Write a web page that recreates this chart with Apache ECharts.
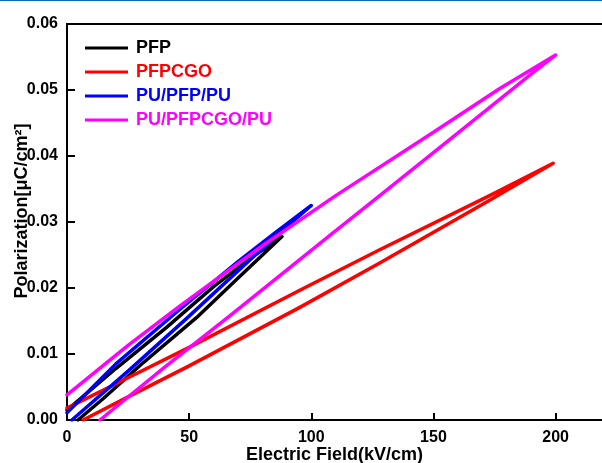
<!DOCTYPE html>
<html>
<head>
<meta charset="utf-8">
<script src="https://cdn.jsdelivr.net/npm/echarts@6/dist/echarts.min.js"></script>
<style>
    html, body { margin: 0; padding: 0; background: #fff; }
    #chart { width: 602px; height: 463px; }
</style>
</head>
<body>
<div id="chart"></div>
<script>
    // hysteresis loops: each list runs up the upper branch, to the tip, and back down the lower branch
    var pfpField = [0, 20, 41, 60, 75, 88, 80, 68, 53, 30, 15, 4.5];
    var pfpPol = [0.0015, 0.0078, 0.0141, 0.0202, 0.0245, 0.0278, 0.0250, 0.0208, 0.0155, 0.0083, 0.0033, 0];

    var pfpcgoField = [0, 25, 50, 95.5, 128, 173, 199, 173, 128, 95.5, 50, 25, 6.6];
    var pfpcgoPol = [0.0018, 0.0064, 0.0110, 0.0197, 0.0258, 0.0340, 0.0389, 0.0333, 0.0238, 0.0171, 0.0082, 0.0035, 0];

    var puPfpField = [0, 20, 46, 70, 85, 100, 85, 70, 49, 25, 2];
    var puPfpPol = [0.0011, 0.0085, 0.0167, 0.0240, 0.0283, 0.0325, 0.0277, 0.0226, 0.0154, 0.0074, 0];

    var puPfpcgoField = [0, 25, 46, 80, 110, 150, 177, 200, 191, 156, 127, 108, 66, 40, 13.5];
    var puPfpcgoPol = [0.0038, 0.0113, 0.0172, 0.0264, 0.0340, 0.0436, 0.0502, 0.0553, 0.0527, 0.0423, 0.0337, 0.0281, 0.0156, 0.0080, 0];

    var seriesNames = ['PFP', 'PFPCGO', 'PU/PFP/PU', 'PU/PFPCGO/PU'];
    var seriesColors = ['#000000', '#ff0000', '#0000ff', '#ff00ff'];

    function pairs(xs, ys) {
        var out = [];
        for (var i = 0; i < xs.length; i++) {
            out.push([xs[i], ys[i]]);
        }
        return out;
    }

    var loops = [
        pairs(pfpField, pfpPol),
        pairs(pfpcgoField, pfpcgoPol),
        pairs(puPfpField, puPfpPol),
        pairs(puPfpcgoField, puPfpcgoPol)
    ];

    let chart = echarts.init(document.getElementById('chart'));

    var font = 'Arial, "Liberation Sans", sans-serif';

    let option = {
        animation: false,
        textStyle: { fontFamily: font },
        grid: {
            left: 67,
            right: 0,
            top: 24,
            bottom: 43,
            outerBoundsMode: 'none',
            containLabel: false
        },
        legend: {
            orient: 'vertical',
            left: 80,
            top: 34,
            icon: 'rect',
            itemWidth: 43,
            itemHeight: 3,
            itemGap: 6,
            textStyle: {
                fontFamily: font,
                fontSize: 18,
                fontWeight: 'bold',
                lineHeight: 18,
                padding: [0, 0, 0, 3]
            },
            data: seriesNames.map(function (name, i) {
                return { name: name, textStyle: { color: seriesColors[i] } };
            })
        },
        graphic: [
            {
                type: 'rect',
                left: 0,
                top: 0,
                shape: { width: 602, height: 1 },
                style: { fill: '#0a6cb8' }
            }
        ],
        xAxis: [
            {
                type: 'value',
                min: 0,
                max: 219,
                interval: 50,
                name: 'Electric Field(kV/cm)',
                nameLocation: 'middle',
                nameGap: 26,
                nameMoveOverlap: false,
                nameTextStyle: {
                    color: '#000',
                    fontFamily: font,
                    fontSize: 18,
                    fontWeight: 'bold'
                },
                splitLine: { show: false },
                axisLine: { lineStyle: { color: '#000', width: 2 } },
                axisTick: { inside: true, length: 7, lineStyle: { color: '#000', width: 2 } },
                axisLabel: {
                    color: '#000',
                    fontFamily: font,
                    fontSize: 16,
                    fontWeight: 'bold',
                    margin: 10,
                    showMaxLabel: false
                }
            },
            {
                type: 'value',
                position: 'top',
                min: 0,
                max: 219,
                splitLine: { show: false },
                axisLine: { lineStyle: { color: '#000', width: 2 } },
                axisTick: { show: false },
                axisLabel: { show: false }
            }
        ],
        yAxis: [
            {
                type: 'value',
                min: 0,
                max: 0.06,
                interval: 0.01,
                name: 'Polarization[μC/cm²]',
                nameLocation: 'middle',
                nameGap: 36,
                nameMoveOverlap: false,
                nameTextStyle: {
                    color: '#000',
                    fontFamily: font,
                    fontSize: 18,
                    fontWeight: 'bold',
                    padding: [0, 0, 0, 22]
                },
                splitLine: { show: false },
                axisLine: { lineStyle: { color: '#000', width: 2 } },
                axisTick: { inside: true, length: 8, lineStyle: { color: '#000', width: 2 } },
                axisLabel: {
                    color: '#000',
                    fontFamily: font,
                    fontSize: 16,
                    fontWeight: 'bold',
                    margin: 9,
                    formatter: function (v) { return v.toFixed(2); }
                }
            }
        ],
        series: loops.map(function (loop, i) {
            return {
                name: seriesNames[i],
                type: 'line',
                xAxisIndex: 0,
                showSymbol: false,
                symbol: 'none',
                smooth: false,
                itemStyle: { color: seriesColors[i] },
                lineStyle: { color: seriesColors[i], width: 3.5, cap: 'round', join: 'round' },
                data: loop
            };
        })
    };
    chart.setOption(option);
</script>
</body>
</html>
